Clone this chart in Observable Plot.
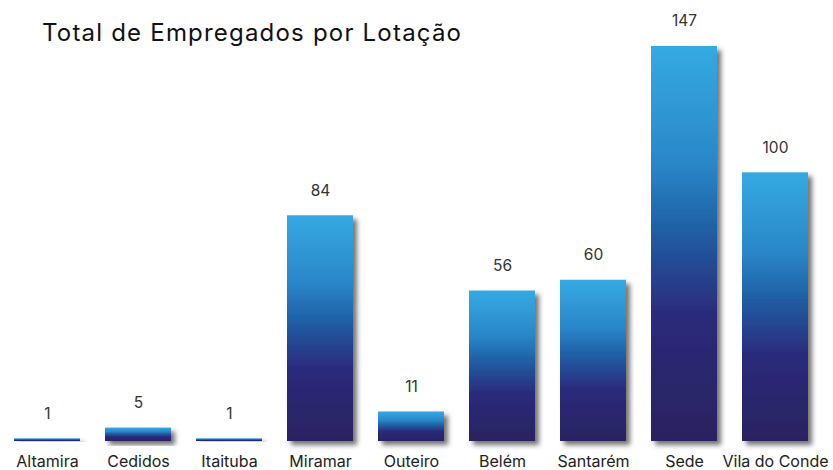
<!DOCTYPE html>
<html><head><meta charset="utf-8">
<script src="https://cdn.jsdelivr.net/npm/d3@7"></script>
<script src="https://cdn.jsdelivr.net/npm/@observablehq/plot@0.6"></script>
<style>
body{margin:0;background:#fff;font-family:Inter,"Open Sans",sans-serif;}
#wrap{position:relative;width:833px;height:470px;}
#title{position:absolute;left:42px;top:18px;font-size:24px;color:#111;letter-spacing:1.2px;z-index:2;}
</style></head>
<body><div id="wrap"><div id="title">Total de Empregados por Lotação</div></div>
<script>
const categories = ["Altamira","Cedidos","Itaituba","Miramar","Outeiro","Belém","Santarém","Sede","Vila do Conde"];
const values = [1,5,1,84,11,56,60,147,100];
const data = categories.map((c,i)=>({lotacao:c, total:values[i]}));

const chart = Plot.plot({
  width: 833, height: 470,
  marginLeft: 13, marginRight: 24, marginTop: 46, marginBottom: 29,
  style: {fontFamily: "Inter, 'Open Sans', sans-serif", background: "transparent"},
  x: {domain: categories, padding: 0.277, paddingOuter: 0, label: null},
  y: {domain: [0,147], axis: null},
  marks: [
    Plot.barY(data, {x: "lotacao", y: "total", fill: "url(#barGrad)"}),
    Plot.text(data, {x: "lotacao", y: "total", text: d => String(d.total), dy: -25, fontSize: 15.5, fill: "#333"}),
    Plot.axisX({tickSize: 0, tickPadding: 14, fontSize: 16, fill: "#222", label: null})
  ]
});
const svg = d3.select(chart);
const defs = svg.insert("defs", ":first-child");
const g = defs.append("linearGradient").attr("id","barGrad").attr("x1",0).attr("y1",0).attr("x2",0).attr("y2",1);
[[0,"#35aae2"],[0.3,"#2a86c8"],[0.45,"#1f63a8"],[0.68,"#2c2a7c"],[1,"#2a2360"]].forEach(([o,c])=>g.append("stop").attr("offset",o).attr("stop-color",c));
const f = defs.append("filter").attr("id","shadow").attr("x","-20%").attr("y","-20%").attr("width","150%").attr("height","150%");
f.append("feDropShadow").attr("dx",4).attr("dy",4).attr("stdDeviation",2.5).attr("flood-color","#000").attr("flood-opacity",0.55);
svg.selectAll("g[aria-label='bar'] rect").attr("filter","url(#shadow)");
chart.style.position="absolute"; chart.style.left="0"; chart.style.top="0";
document.getElementById("wrap").appendChild(chart);
</script></body></html>
